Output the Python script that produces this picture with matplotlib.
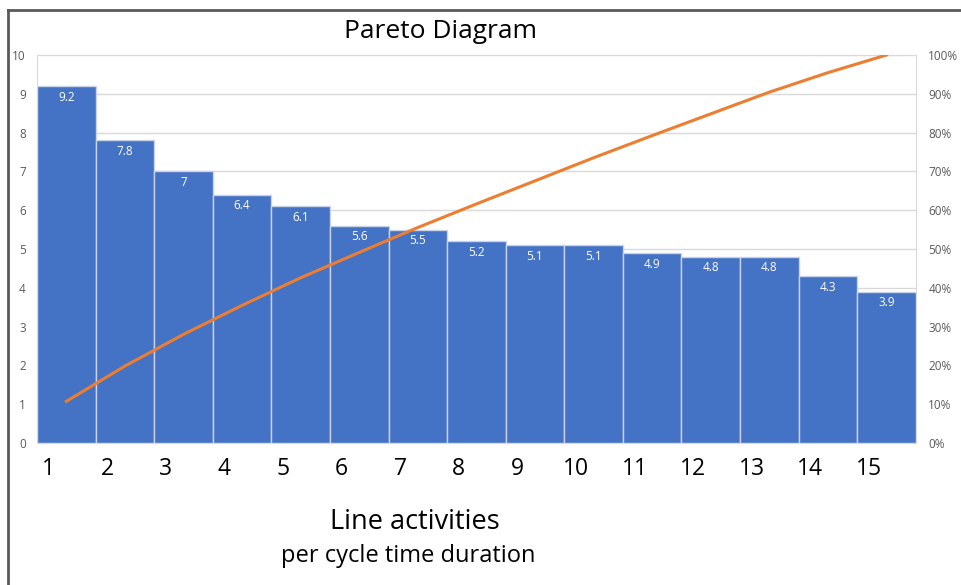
import numpy as np
import matplotlib.pyplot as plt
from matplotlib.lines import Line2D

# Pareto data: durations per line activity (sorted descending)
activities = ['1', '2', '3', '4', '5', '6', '7', '8', '9', '10', '11', '12', '13', '14', '15']
durations = [9.2, 7.8, 7, 6.4, 6.1, 5.6, 5.5, 5.2, 5.1, 5.1, 4.9, 4.8, 4.8, 4.3, 3.9]
value_labels = ['9.2', '7.8', '7', '6.4', '6.1', '5.6', '5.5', '5.2', '5.1', '5.1', '4.9', '4.8', '4.8', '4.3', '3.9']
left_ticks = [0, 1, 2, 3, 4, 5, 6, 7, 8, 9, 10]
right_ticks = [0, 10, 20, 30, 40, 50, 60, 70, 80, 90, 100]

bar_color = '#4472C4'
line_color = '#ED7D31'
grid_color = '#D9D9D9'
tick_color = '#595959'
font = ['Open Sans', 'DejaVu Sans']

plt.rcParams['font.family'] = font

fig = plt.figure(figsize=(9.61, 5.85), dpi=100)
ax = fig.add_axes([0.0385, 0.2427, 0.9145, 0.6633])

x = np.arange(len(durations))
cum_pct = np.cumsum(durations) / np.sum(durations) * 100

# Bars
ax.bar(x, durations, width=1.0, color=bar_color, edgecolor='#C9D3E8', linewidth=1.0, zorder=2)
for xi, v, lab in zip(x, durations, value_labels):
    ax.text(xi, v - 0.12, lab, ha='center', va='top', color='white', fontsize=8.5, zorder=4)

ax.set_xlim(-0.5, len(durations) - 0.5)
ax.set_ylim(0, 10)
ax.set_yticks(left_ticks)
ax.yaxis.grid(True, color=grid_color, linewidth=1.0, zorder=0)
ax.set_axisbelow(True)
ax.tick_params(axis='y', length=0, labelsize=8.5, labelcolor=tick_color, pad=8)
for side in ['left', 'right', 'top', 'bottom']:
    ax.spines[side].set_color(grid_color)

# Category labels (offset slightly left, as in the source)
ax.set_xticks(x - 0.3)
ax.set_xticklabels(activities, fontsize=16.5, color='black')
ax.tick_params(axis='x', length=0, pad=10)

# Cumulative percentage line
ax2 = ax.twinx()
ax2.plot(x, cum_pct, color=line_color, linewidth=2.2, zorder=5)
ax2.set_ylim(0, 100)
ax2.set_yticks(right_ticks)
ax2.set_yticklabels([f'{t}%' for t in right_ticks])
ax2.tick_params(axis='y', length=0, labelsize=8.5, labelcolor=tick_color, pad=9)
for side in ['left', 'right', 'top', 'bottom']:
    ax2.spines[side].set_visible(False)

# Titles
fig.text(441 / 961, 1 - 32 / 585, 'Pareto Diagram', ha='center', va='center', fontsize=19)
fig.text(415 / 961, 1 - 522 / 585, 'Line activities', ha='center', va='center', fontsize=19.5)
fig.text(408 / 961, 1 - 556 / 585, 'per cycle time duration', ha='center', va='center', fontsize=17)

# Outer frame (left and top edges)
fig.add_artist(Line2D([8 / 961, 8 / 961], [0, 1 - 10 / 585], color='#595959', linewidth=2))
fig.add_artist(Line2D([8 / 961, 1], [1 - 10 / 585, 1 - 10 / 585], color='#595959', linewidth=2))

plt.savefig('out.png', dpi=100)
